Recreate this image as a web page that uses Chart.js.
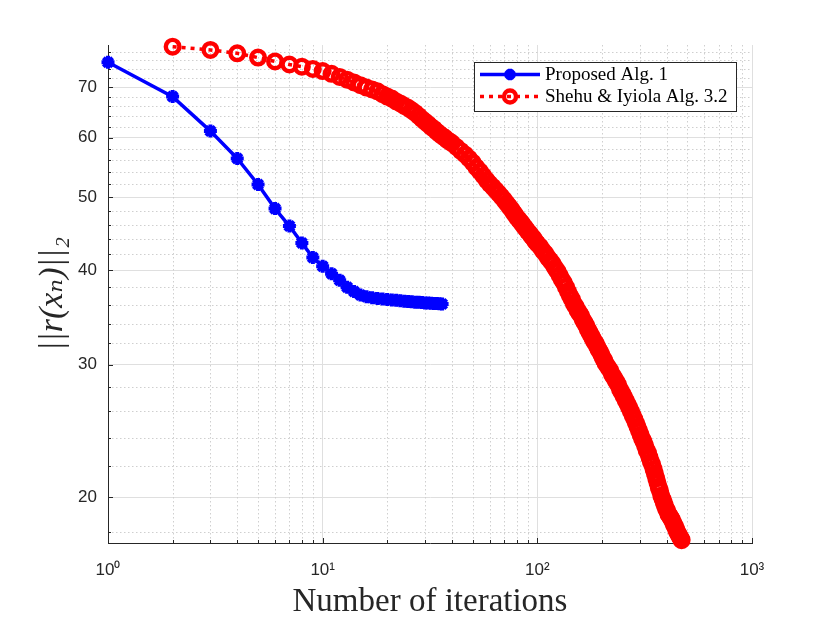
<!DOCTYPE html>
<html>
<head>
<meta charset="utf-8">
<script src="https://cdn.jsdelivr.net/npm/chart.js@4.4.0/dist/chart.umd.min.js"></script>
<style>
  html, body { margin: 0; padding: 0; background: #fff; }
  #wrap { width: 830px; height: 623px; }
</style>
</head>
<body>
<div id="wrap"><canvas id="resChart" width="830" height="623"></canvas></div>
<script>
// residual norm per iteration
const blueIter = [1, 2, 3, 4, 5, 6, 7, 8, 9, 10, 11, 12, 13, 14, 15, 16, 17, 18,
  19, 20, 21, 22, 23, 24, 25, 26, 27, 28, 29, 30, 31, 32, 33, 34, 35, 36];
const blueRes = [75.5, 68.0, 61.2, 56.3, 52.0, 48.3, 45.8, 43.5, 41.6, 40.5, 39.6, 38.8,
  38.0, 37.5, 37.1, 36.9, 36.8, 36.7, 36.65, 36.6, 36.55, 36.5, 36.45, 36.4, 36.37,
  36.34, 36.3, 36.28, 36.25, 36.22, 36.2, 36.18, 36.16, 36.14, 36.12, 36.1];

const redIter = [2, 3, 4, 5, 6, 7, 8, 9, 10, 11, 12, 13, 14, 15, 16, 17, 18, 19, 20,
  21, 22, 23, 24, 25, 26, 27, 28, 29, 30, 31, 32, 33, 34, 35, 36, 37, 38, 39, 40,
  42, 44, 46, 48, 50, 52, 54, 56, 58, 60, 62, 64, 66, 68, 70, 72, 74, 76, 78, 80,
  82, 84, 86, 88, 90, 92, 94, 96, 98, 100,
  103, 106, 109, 112, 115, 118, 121, 124, 127, 130, 133, 136, 139, 142, 145, 148,
  151, 154, 157, 160, 163, 166, 169, 172, 175, 178, 181, 184, 187, 190, 193, 196,
  199, 202, 205, 208,
  213, 218, 223, 228, 233, 238, 243, 248, 253, 258, 263, 268, 273, 278, 283, 288,
  293, 298, 303, 308, 313, 318, 323, 328, 333, 338, 343, 348, 353, 358, 363, 368,
  373, 378, 383, 388, 393, 398, 403, 408, 413, 418, 423, 428, 433, 438, 443, 448,
  453, 458, 463, 468, 470];
const redRes = [79.2, 78.4, 77.6, 76.6, 75.7, 75.0, 74.5, 74.0, 73.5, 72.9, 72.2, 71.6,
  71.0, 70.4, 69.9, 69.5, 69.1, 68.5, 68.0,
  67.6, 67.0, 66.6, 66.1, 65.7, 65.2, 64.7, 64.1, 63.5, 63.0, 62.5, 62.0, 61.6, 61.1,
  60.7, 60.3, 60.0, 59.6, 59.3, 59.0,
  58.3, 57.6, 57.0, 56.3, 55.6, 54.8, 54.1, 53.4, 52.7, 52.1, 51.6, 51.1, 50.6, 50.1,
  49.6, 49.1, 48.6, 48.1, 47.6, 47.1, 46.7, 46.3, 45.9, 45.5, 45.1, 44.8, 44.4, 44.1,
  43.7, 43.4,
  43.0, 42.5, 42.1, 41.6, 41.2, 40.8, 40.3, 39.9, 39.4, 38.9, 38.5, 38.0, 37.5, 37.0,
  36.6, 36.1, 35.8, 35.4, 35.1, 34.8, 34.4, 34.1, 33.8, 33.4, 33.1, 32.8, 32.5, 32.2,
  32.0, 31.7, 31.4, 31.2, 30.9, 30.6, 30.4, 30.1,
  29.8, 29.5, 29.1, 28.8, 28.5, 28.2, 27.8, 27.5, 27.2, 26.9, 26.6, 26.3, 26.0, 25.7,
  25.4, 25.1, 24.8, 24.5, 24.2, 23.9, 23.7, 23.4, 23.1, 22.9, 22.6, 22.3, 22.1, 21.8,
  21.5, 21.2, 20.9, 20.6, 20.4, 20.1, 19.9, 19.7, 19.5, 19.3, 19.2, 19.0, 18.9, 18.8,
  18.7, 18.55, 18.4, 18.3, 18.15, 18.0, 17.9, 17.8, 17.7, 17.6, 17.55];

const seriesNames = ['Proposed Alg. 1', 'Shehu & Iyiola Alg. 3.2'];

// axis ticks (log-log)
const xMajor = [1, 10, 100, 1000];
const xMinor = [2, 3, 4, 5, 6, 7, 8, 9, 20, 30, 40, 50, 60, 70, 80, 90,
  200, 300, 400, 500, 600, 700, 800, 900];
const yMajor = [20, 30, 40, 50, 60, 70];
const yMinor = [18, 22, 24, 26, 28, 32, 34, 36, 38, 42, 44, 46, 48, 52, 54, 56, 58,
  62, 64, 66, 68, 72, 74, 76, 78];

const sup = { '0': '\u2070', '1': '\u00b9', '2': '\u00b2', '3': '\u00b3' };
const axisColor = '#262626';

function toPoints(xs, ys) {
  return xs.map((x, i) => ({ x: x, y: ys[i] }));
}

// dotted minor grid + inward tick marks, like the matlab axes
const minorGrid = {
  id: 'minorGrid',
  beforeDatasetsDraw(chart) {
    const { ctx, chartArea: a, scales: { x, y } } = chart;
    ctx.save();
    ctx.strokeStyle = '#cfcfcf';
    ctx.lineWidth = 1;
    ctx.setLineDash([1.5, 2.5]);
    xMinor.forEach(v => {
      const px = Math.round(x.getPixelForValue(v)) + 0.5;
      ctx.beginPath(); ctx.moveTo(px, a.top); ctx.lineTo(px, a.bottom); ctx.stroke();
    });
    yMinor.forEach(v => {
      const py = Math.round(y.getPixelForValue(v)) + 0.5;
      ctx.beginPath(); ctx.moveTo(a.left, py); ctx.lineTo(a.right, py); ctx.stroke();
    });
    ctx.setLineDash([]);
    ctx.strokeStyle = axisColor;
    const tick = (vals, len, horiz) => vals.forEach(v => {
      ctx.beginPath();
      if (horiz) {
        const px = Math.round(x.getPixelForValue(v)) + 0.5;
        ctx.moveTo(px, a.bottom); ctx.lineTo(px, a.bottom - len);
      } else {
        const py = Math.round(y.getPixelForValue(v)) + 0.5;
        ctx.moveTo(a.left, py); ctx.lineTo(a.left + len, py);
      }
      ctx.stroke();
    });
    tick(xMajor, 5, true); tick(xMinor, 3, true);
    tick(yMajor, 5, false); tick(yMinor, 3, false);
    ctx.restore();
  }
};

// boxed legend in the top-right corner of the plot
const boxLegend = {
  id: 'boxLegend',
  afterDraw(chart) {
    const { ctx, chartArea: a } = chart;
    const sets = chart.data.datasets;
    ctx.save();
    ctx.font = '19px "Liberation Serif", serif';
    const textW = Math.max(...sets.map(d => ctx.measureText(d.label).width));
    const boxW = Math.round(71 + textW + 8), boxH = 49;
    const bx = Math.round(a.right - 16 - boxW), by = Math.round(a.top + 17);
    ctx.fillStyle = '#fff';
    ctx.fillRect(bx, by, boxW, boxH);
    ctx.strokeStyle = axisColor;
    ctx.lineWidth = 1;
    ctx.strokeRect(bx + 0.5, by + 0.5, boxW, boxH);
    sets.forEach((d, i) => {
      const cy = by + 12.5 + i * 22;
      ctx.beginPath();
      ctx.setLineDash(d.borderDash || []);
      ctx.strokeStyle = d.borderColor;
      ctx.lineWidth = d.borderWidth;
      ctx.moveTo(bx + 6, cy); ctx.lineTo(bx + 66, cy);
      ctx.stroke();
      ctx.setLineDash([]);
      ctx.strokeStyle = d.pointBorderColor;
      ctx.fillStyle = d.pointBackgroundColor;
      ctx.lineWidth = d.pointBorderWidth;
      Chart.helpers.drawPoint(ctx, {
        pointStyle: d.pointStyle, radius: d.pointRadius - 0.8,
        borderWidth: d.pointBorderWidth, rotation: 0
      }, bx + 36, cy);
      ctx.fillStyle = '#000';
      ctx.textAlign = 'left';
      ctx.textBaseline = 'middle';
      ctx.fillText(d.label, bx + 71, cy + 1);
    });
    ctx.restore();
  }
};

new Chart(document.getElementById('resChart'), {
  type: 'line',
  data: {
    datasets: [{
      label: seriesNames[0],
      data: toPoints(blueIter, blueRes),
      borderColor: '#0000ff',
      borderWidth: 3.5,
      pointStyle: 'star',
      pointRadius: 6.5,
      pointBorderWidth: 4,
      pointBorderColor: '#0000ff',
      pointBackgroundColor: '#0000ff',
      clip: false
    }, {
      label: seriesNames[1],
      data: toPoints(redIter, redRes),
      borderColor: '#ff0000',
      borderWidth: 3.5,
      borderDash: [4, 5],
      pointStyle: 'circle',
      pointRadius: 6.8,
      pointBorderWidth: 4.4,
      pointBorderColor: '#ff0000',
      pointBackgroundColor: 'rgba(0,0,0,0)',
      clip: false
    }]
  },
  options: {
    responsive: false,
    animation: false,
    devicePixelRatio: 1,
    layout: { padding: { left: 0, right: 78, top: 45, bottom: 0 } },
    plugins: { legend: { display: false }, tooltip: { enabled: false } },
    scales: {
      x: {
        type: 'logarithmic',
        min: 1,
        max: 1000,
        afterBuildTicks: s => { s.ticks = xMajor.map(v => ({ value: v })); },
        afterFit: s => { s.height = 80; },
        ticks: {
          autoSkip: false,
          maxRotation: 0,
          padding: 17,
          color: axisColor,
          font: { family: '"Liberation Sans", Arial, sans-serif', size: 17 },
          callback: v => '10' + sup[String(Math.round(Math.log10(v)))]
        },
        grid: { color: '#dfdfdf', lineWidth: 1, drawTicks: false },
        border: { color: axisColor, width: 1 },
        title: {
          display: true,
          text: 'Number of iterations',
          color: axisColor,
          font: { family: '"Liberation Serif", serif', size: 33 },
          padding: { top: 0, bottom: 1 }
        }
      },
      y: {
        type: 'logarithmic',
        min: 17.4,
        max: 79.6,
        afterBuildTicks: s => { s.ticks = yMajor.map(v => ({ value: v })); },
        afterFit: s => { s.width = 108; },
        ticks: {
          padding: 11,
          color: axisColor,
          font: { family: '"Liberation Sans", Arial, sans-serif', size: 17 },
          callback: v => String(v)
        },
        grid: { color: '#dfdfdf', lineWidth: 1, drawTicks: false },
        border: { color: axisColor, width: 1 },
        title: {
          display: true,
          text: '||r(x\u2099)||\u2082',
          color: axisColor,
          font: { family: '"Liberation Serif", "DejaVu Serif", serif', size: 34, style: 'italic' },
          padding: { top: 33, bottom: 0 }
        }
      }
    }
  },
  plugins: [minorGrid, boxLegend]
});
</script>
</body>
</html>
